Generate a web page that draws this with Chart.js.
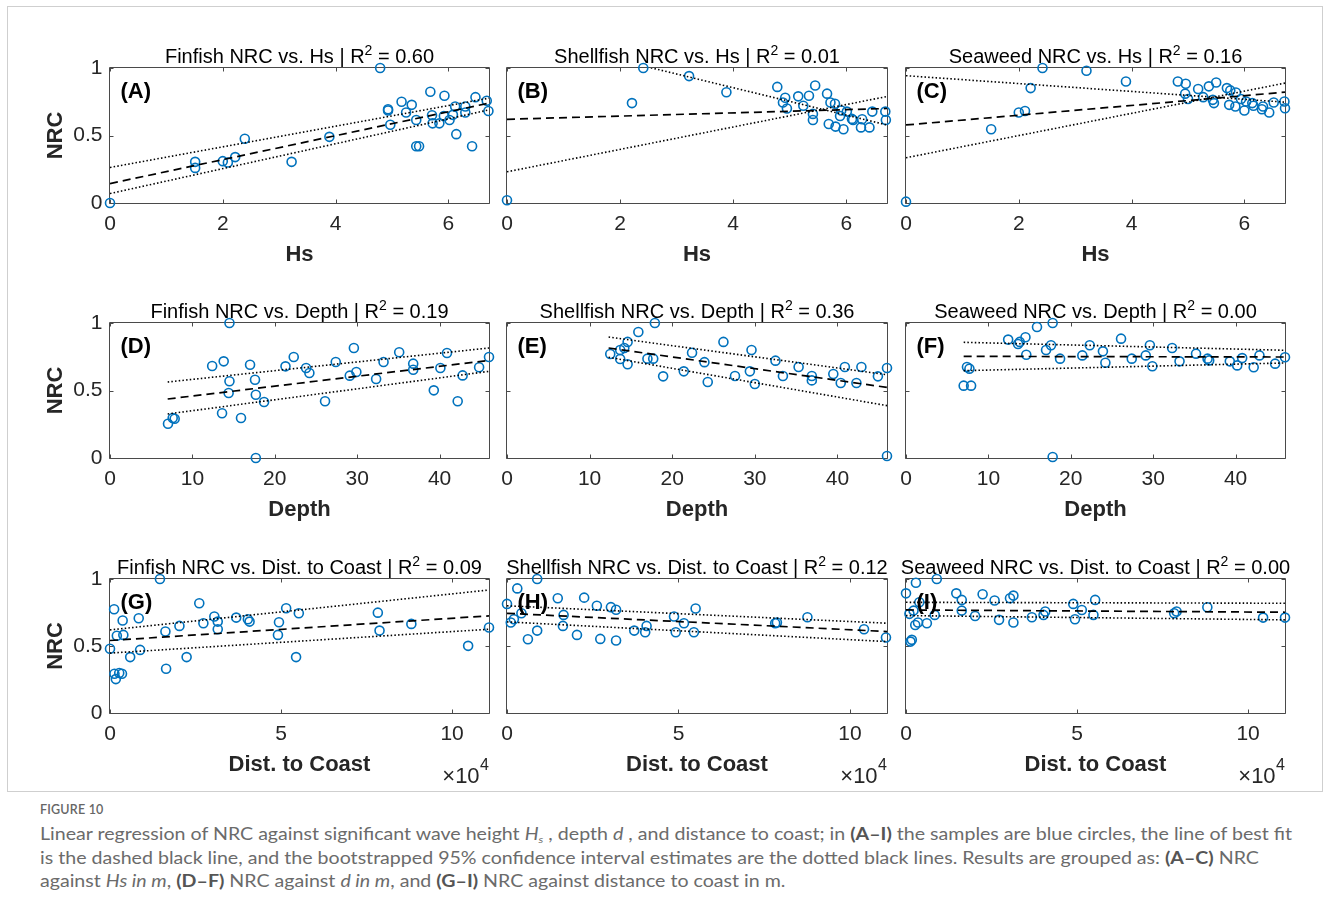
<!DOCTYPE html>
<html>
<head>
<meta charset="utf-8">
<script src="https://cdn.jsdelivr.net/npm/chart.js@4.4.1/dist/chart.umd.min.js"></script>
<style>
  html, body { margin: 0; padding: 0; background: #fff; }
  body { width: 1331px; height: 917px; position: relative; overflow: hidden; }
  .frame { position: absolute; left: 7px; top: 6px; width: 1316px; height: 786px; border: 1px solid #cfcfcf; box-sizing: border-box; }
  canvas.panel { position: absolute; }
  .figno { position: absolute; left: 40px; top: 802px; font: 600 12.5px Lato, "Open Sans", sans-serif; color: #666; letter-spacing: 0.2px; white-space: nowrap; }
  .cap { position: absolute; left: 40px; font: 400 16.5px Lato, "Open Sans", sans-serif; color: #6b6b6b; white-space: nowrap; line-height: 23px; transform-origin: 0 0; display: inline-block; }
  .cap b { color: #555; font-weight: 700; }
  .cap sub { font-size: 10px; vertical-align: -3px; }
</style>
</head>
<body>
<div class="frame"></div>
<div id="panels"></div>
<div class="figno">FIGURE 10</div>
<div class="cap" id="cap1" style="top:823px">Linear regression of NRC against significant wave height <i>H<sub>s</sub></i> , depth <i>d</i> , and distance to coast; in <b>(A–I)</b> the samples are blue circles, the line of best fit</div>
<div class="cap" id="cap2" style="top:846.5px">is the dashed black line, and the bootstrapped 95% confidence interval estimates are the dotted black lines. Results are grouped as: <b>(A–C)</b> NRC</div>
<div class="cap" id="cap3" style="top:870px">against <i>Hs in m</i>, <b>(D–F)</b> NRC against <i>d in m</i>, and <b>(G–I)</b> NRC against distance to coast in m.</div>
<script>
// ---------------- DATA ----------------
const NRC_TICKS = [0, 0.5, 1];
const HS_TICKS = [0, 2, 4, 6];
const DEPTH_TICKS = [0, 10, 20, 30, 40];
const DIST_TICKS = [0, 50000, 100000];

// Row 1: NRC vs Hs
const finHsX = [0, 4.79, 1.51, 1.51, 2.0, 2.09, 2.22, 2.39, 3.22, 3.89, 4.93, 4.93, 4.97, 5.17, 5.25, 5.35, 5.43, 5.43, 5.48, 5.68, 5.71, 5.72, 5.84, 5.93, 5.92, 6.02, 6.08, 6.12, 6.14, 6.30, 6.30, 6.42, 6.48, 6.68, 6.71];
const finHsY = [0, 1.0, 0.305, 0.26, 0.31, 0.30, 0.34, 0.476, 0.305, 0.49, 0.695, 0.685, 0.58, 0.75, 0.67, 0.727, 0.615, 0.42, 0.42, 0.824, 0.65, 0.59, 0.59, 0.794, 0.645, 0.615, 0.653, 0.715, 0.51, 0.715, 0.67, 0.42, 0.784, 0.757, 0.682];
const shellHsX = [0, 2.41, 2.21, 3.22, 3.88, 4.78, 4.92, 4.88, 4.95, 5.15, 5.24, 5.34, 5.45, 5.41, 5.41, 5.66, 5.72, 5.80, 5.69, 5.81, 5.95, 5.91, 5.89, 6.01, 6.10, 6.12, 6.28, 6.26, 6.41, 6.46, 6.69, 6.70];
const shellHsY = [0.02, 1.0, 0.74, 0.94, 0.82, 0.86, 0.78, 0.745, 0.70, 0.79, 0.72, 0.794, 0.87, 0.66, 0.615, 0.81, 0.745, 0.735, 0.585, 0.566, 0.546, 0.685, 0.645, 0.677, 0.623, 0.615, 0.62, 0.56, 0.56, 0.677, 0.677, 0.615];
const seaHsX = [0, 1.51, 2.0, 2.11, 2.21, 2.42, 3.20, 3.90, 4.82, 4.96, 4.95, 5.0, 5.18, 5.27, 5.37, 5.50, 5.44, 5.46, 5.69, 5.75, 5.85, 5.73, 5.84, 5.94, 6.0, 6.03, 6.14, 6.16, 6.33, 6.31, 6.44, 6.52, 6.71, 6.72];
const seaHsY = [0.01, 0.546, 0.67, 0.682, 0.851, 1.0, 0.98, 0.90, 0.90, 0.883, 0.81, 0.77, 0.844, 0.784, 0.864, 0.893, 0.764, 0.74, 0.851, 0.834, 0.819, 0.727, 0.715, 0.77, 0.685, 0.752, 0.74, 0.72, 0.715, 0.695, 0.67, 0.744, 0.752, 0.702];
const hsLineX = [0, 6.72];
const finHsFit = [0.144, 0.74], finHsLo = [0.07, 0.69], finHsHi = [0.263, 0.777];
const shellHsFit = [0.62, 0.70], shellHsLo = [0.231, 0.789], shellHsHi = [1.26, 0.578];
const seaHsFit = [0.578, 0.821], seaHsLo = [0.335, 0.888], seaHsHi = [0.943, 0.747];

// Row 2: NRC vs Depth
const finDepthX = [7.04, 7.61, 7.85, 12.4, 13.6, 13.8, 14.5, 14.5, 14.4, 15.9, 17.0, 17.6, 17.7, 17.7, 18.7, 21.3, 22.3, 23.8, 24.2, 26.1, 27.4, 29.1, 29.6, 29.9, 32.3, 33.2, 35.1, 36.8, 36.8, 39.3, 40.1, 40.9, 42.2, 42.8, 44.8, 46.0];
const finDepthY = [0.254, 0.296, 0.291, 0.681, 0.331, 0.716, 1.0, 0.568, 0.481, 0.296, 0.691, 0.58, 0.469, 0, 0.415, 0.679, 0.748, 0.667, 0.63, 0.42, 0.711, 0.61, 0.815, 0.637, 0.585, 0.711, 0.783, 0.699, 0.654, 0.501, 0.667, 0.778, 0.42, 0.612, 0.672, 0.748];
const shellDepthX = [12.5, 13.7, 13.7, 14.2, 14.6, 14.6, 15.9, 17.0, 17.7, 17.9, 18.9, 21.4, 22.4, 23.9, 24.3, 26.2, 27.6, 29.4, 29.6, 30.0, 32.5, 33.4, 35.3, 36.9, 36.9, 39.5, 40.4, 40.9, 42.3, 42.9, 44.9, 46.0, 46.0];
const shellDepthY = [0.77, 0.80, 0.733, 0.815, 0.86, 0.694, 0.933, 0.736, 0.736, 1.0, 0.605, 0.642, 0.78, 0.71, 0.563, 0.86, 0.607, 0.642, 0.80, 0.548, 0.721, 0.607, 0.674, 0.607, 0.575, 0.622, 0.556, 0.674, 0.556, 0.674, 0.605, 0.667, 0.015];
const seaDepthX = [7.0, 7.9, 7.4, 7.7, 12.4, 13.6, 13.8, 14.5, 14.6, 15.9, 17.0, 17.6, 17.8, 17.8, 18.7, 21.4, 22.3, 23.9, 24.2, 26.1, 27.4, 29.1, 29.6, 29.9, 32.3, 33.2, 35.2, 36.6, 36.8, 39.3, 40.2, 40.8, 42.2, 42.9, 44.8, 46.0];
const seaDepthY = [0.536, 0.536, 0.674, 0.662, 0.877, 0.844, 0.86, 0.894, 0.765, 0.97, 0.80, 0.835, 1.0, 0.007, 0.736, 0.76, 0.835, 0.79, 0.706, 0.884, 0.736, 0.76, 0.835, 0.68, 0.815, 0.716, 0.773, 0.736, 0.723, 0.716, 0.686, 0.74, 0.672, 0.76, 0.699, 0.746];
const finDepthLineX = [7, 46], shellDepthLineX = [12.3, 46], seaDepthLineX = [7, 46];
const finDepthFit = [0.437, 0.723], finDepthLo = [0.326, 0.642], finDepthHi = [0.563, 0.815];
const shellDepthFit = [0.815, 0.523], shellDepthLo = [0.746, 0.388], shellDepthHi = [0.896, 0.617];
const seaDepthFit = [0.753, 0.748], seaDepthLo = [0.647, 0.704], seaDepthHi = [0.857, 0.798];

// Row 3: NRC vs distance to coast (m)
const finDistX = [0, 1200, 1300, 1700, 2000, 2700, 3500, 3700, 3900, 5900, 8400, 8800, 14600, 16200, 16400, 20300, 22400, 26100, 27300, 30500, 31500, 31500, 36900, 40300, 40800, 49400, 49100, 51500, 54400, 55200, 78300, 78800, 88100, 104700, 110800];
const finDistY = [0.479, 0.774, 0.293, 0.253, 0.576, 0.298, 0.293, 0.69, 0.583, 0.417, 0.707, 0.471, 1.0, 0.608, 0.33, 0.65, 0.417, 0.819, 0.67, 0.72, 0.682, 0.625, 0.712, 0.70, 0.682, 0.677, 0.583, 0.782, 0.417, 0.744, 0.749, 0.615, 0.665, 0.501, 0.638];
const shellDistX = [0, 1100, 2000, 3000, 4200, 6100, 8800, 8800, 14800, 16500, 16300, 20400, 22500, 26200, 27200, 30300, 31800, 31800, 37100, 40300, 40700, 48700, 49200, 51600, 54500, 55000, 78200, 78700, 87600, 104100, 110500];
const shellDistY = [0.814, 0.675, 0.70, 0.93, 0.744, 0.55, 1.0, 0.615, 0.856, 0.732, 0.65, 0.583, 0.861, 0.80, 0.553, 0.79, 0.77, 0.541, 0.615, 0.603, 0.65, 0.72, 0.603, 0.67, 0.603, 0.78, 0.67, 0.675, 0.715, 0.625, 0.563];
const seaDistX = [0, 1000, 1300, 1700, 2200, 2700, 2900, 3500, 3900, 6100, 8400, 9000, 14700, 16300, 16300, 20200, 22400, 25900, 27200, 30400, 31400, 31400, 36800, 40200, 40700, 48900, 49400, 51400, 54800, 55300, 78400, 79100, 88100, 104400, 110800];
const seaDistY = [0.893, 0.74, 0.533, 0.546, 0.764, 0.657, 0.972, 0.675, 0.826, 0.67, 0.732, 1.0, 0.893, 0.844, 0.764, 0.724, 0.886, 0.839, 0.695, 0.856, 0.876, 0.675, 0.715, 0.732, 0.757, 0.814, 0.70, 0.769, 0.732, 0.844, 0.744, 0.757, 0.789, 0.712, 0.712];
const distLineX = [0, 110800];
const finDistFit = [0.541, 0.725], finDistLo = [0.447, 0.625], finDistHi = [0.62, 0.918];
const shellDistFit = [0.744, 0.608], shellDistLo = [0.68, 0.533], shellDistHi = [0.80, 0.67];
const seaDistFit = [0.769, 0.752], seaDistLo = [0.727, 0.695], seaDistHi = [0.826, 0.819];

const PANEL_LABELS = ['(A)', '(B)', '(C)', '(D)', '(E)', '(F)', '(G)', '(H)', '(I)'];
const SPECIES = ['Finfish', 'Shellfish', 'Seaweed'];
const R2 = ['0.60', '0.01', '0.16', '0.19', '0.36', '0.00', '0.09', '0.12', '0.00'];
const VAR_NAMES = ['Hs', 'Depth', 'Dist. to Coast'];

// ---------------- LAYOUT ----------------
const FONT = '"Liberation Sans", Arial, Helvetica, sans-serif';
const COLS = [{ l: 110, r: 489 }, { l: 507, r: 887 }, { l: 906, r: 1285 }];
const ROWS = [{ t: 68, b: 203 }, { t: 323, b: 458 }, { t: 579, b: 713 }];
const PAD_L = 70, PAD_T = 40, PAD_R = 20, PAD_B = 80;

const rowData = [
  { xs: [finHsX, shellHsX, seaHsX], ys: [finHsY, shellHsY, seaHsY], lx: [hsLineX, hsLineX, hsLineX],
    fit: [finHsFit, shellHsFit, seaHsFit], lo: [finHsLo, shellHsLo, seaHsLo], hi: [finHsHi, shellHsHi, seaHsHi],
    ticks: HS_TICKS, max: 6.72, fmt: v => String(v), exp: false },
  { xs: [finDepthX, shellDepthX, seaDepthX], ys: [finDepthY, shellDepthY, seaDepthY], lx: [finDepthLineX, shellDepthLineX, seaDepthLineX],
    fit: [finDepthFit, shellDepthFit, seaDepthFit], lo: [finDepthLo, shellDepthLo, seaDepthLo], hi: [finDepthHi, shellDepthHi, seaDepthHi],
    ticks: DEPTH_TICKS, max: 46, fmt: v => String(v), exp: false },
  { xs: [finDistX, shellDistX, seaDistX], ys: [finDistY, shellDistY, seaDistY], lx: [distLineX, distLineX, distLineX],
    fit: [finDistFit, shellDistFit, seaDistFit], lo: [finDistLo, shellDistLo, seaDistLo], hi: [finDistHi, shellDistHi, seaDistHi],
    ticks: DIST_TICKS, max: 110800, fmt: v => String(v / 10000), exp: true }
];

const matlabAxes = {
  id: 'matlabAxes',
  beforeDatasetsDraw(chart) {
    const { ctx, chartArea: a, scales: { x, y } } = chart;
    ctx.save();
    ctx.strokeStyle = '#4a4a4a';
    ctx.lineWidth = 1;
    ctx.beginPath();
    const L = a.left - 0.5, R = a.right + 0.5, T = a.top - 0.5, B = a.bottom + 0.5;
    ctx.rect(L, T, R - L, B - T);
    const tl = 4;
    x.ticks.forEach(t => {
      const p = Math.round(x.getPixelForValue(t.value)) + 0.5;
      ctx.moveTo(p, B); ctx.lineTo(p, B - tl);
      ctx.moveTo(p, T); ctx.lineTo(p, T + tl);
    });
    y.ticks.forEach(t => {
      const p = Math.round(y.getPixelForValue(t.value)) + 0.5;
      ctx.moveTo(L, p); ctx.lineTo(L + tl, p);
      ctx.moveTo(R, p); ctx.lineTo(R - tl, p);
    });
    ctx.stroke();
    ctx.restore();
  },
  afterDraw(chart, args, o) {
    const { ctx, chartArea: a } = chart;
    ctx.save();
    // title with superscript
    ctx.fillStyle = '#000';
    ctx.textBaseline = 'alphabetic';
    ctx.textAlign = 'left';
    const mainFont = '20px ' + FONT, supFont = '14px ' + FONT;
    ctx.font = mainFont; const w1 = ctx.measureText(o.pre).width; const w3 = ctx.measureText(o.post).width;
    ctx.font = supFont; const w2 = ctx.measureText(o.sup).width;
    let sx = (a.left + a.right) / 2 - (w1 + w2 + w3) / 2;
    const base = a.top - 5.5;
    ctx.font = mainFont; ctx.fillText(o.pre, sx, base); sx += w1;
    ctx.font = supFont; ctx.fillText(o.sup, sx, base - 8); sx += w2;
    ctx.font = mainFont; ctx.fillText(o.post, sx, base);
    // panel label
    ctx.font = 'bold 22px ' + FONT;
    ctx.fillStyle = '#000';
    ctx.textBaseline = 'middle';
    ctx.fillText(o.label, a.left + 10.5, a.top + 24);
    // exponent
    if (o.exp) {
      ctx.fillStyle = '#262626';
      ctx.textBaseline = 'alphabetic';
      ctx.textAlign = 'right';
      ctx.font = '16px ' + FONT;
      const w4 = ctx.measureText('4').width;
      ctx.fillText('4', a.right, a.bottom + 57);
      ctx.font = '22px ' + FONT;
      ctx.fillText('\u00d710', a.right - w4 - 0.5, a.bottom + 70);
    }
    ctx.restore();
  }
};

const host = document.getElementById('panels');
rowData.forEach((rd, r) => {
  COLS.forEach((c, k) => {
    const idx = r * 3 + k;
    const row = ROWS[r];
    const W = PAD_L + (c.r - c.l) + PAD_R;
    const H = PAD_T + (row.b - row.t) + PAD_B;
    const cv = document.createElement('canvas');
    cv.className = 'panel';
    cv.width = W; cv.height = H;
    cv.style.left = (c.l - PAD_L) + 'px';
    cv.style.top = (row.t - PAD_T) + 'px';
    cv.style.width = W + 'px'; cv.style.height = H + 'px';
    host.appendChild(cv);

    const pts = rd.xs[k].map((xv, i) => ({ x: xv, y: rd.ys[k][i] }));
    const line = arr => rd.lx[k].map((xv, i) => ({ x: xv, y: arr[i] }));
    const firstCol = k === 0;

    new Chart(cv, {
      type: 'scatter',
      data: {
        datasets: [
          { data: line(rd.fit[k]), showLine: true, borderColor: '#000', borderWidth: 1.7, borderDash: [8, 5], pointRadius: 0, order: 0 },
          { data: line(rd.lo[k]), showLine: true, borderColor: '#000', borderWidth: 1.6, borderDash: [1.5, 2.2], pointRadius: 0, order: 0 },
          { data: line(rd.hi[k]), showLine: true, borderColor: '#000', borderWidth: 1.6, borderDash: [1.5, 2.2], pointRadius: 0, order: 0 },
          { data: pts, pointRadius: 4.5, pointBorderWidth: 1.6, borderColor: '#0072BD', pointBorderColor: '#0072BD', backgroundColor: 'rgba(0,0,0,0)', pointBackgroundColor: 'rgba(0,0,0,0)', clip: false, order: 1 }
        ]
      },
      options: {
        responsive: false,
        maintainAspectRatio: false,
        animation: false,
        events: [],
        layout: { padding: { left: 0, top: PAD_T, right: PAD_R, bottom: 0 } },
        plugins: {
          legend: { display: false },
          tooltip: { enabled: false },
          title: { display: false },
          matlabAxes: {
            pre: SPECIES[k] + ' NRC vs. ' + VAR_NAMES[r] + ' | R',
            sup: '2',
            post: ' = ' + R2[idx],
            label: PANEL_LABELS[idx],
            exp: rd.exp
          }
        },
        scales: {
          x: {
            type: 'linear', position: 'bottom', min: 0, max: rd.max,
            afterBuildTicks: s => { s.ticks = rd.ticks.map(v => ({ value: v })); },
            afterFit: s => { s.height = PAD_B; },
            grid: { display: false, drawTicks: false },
            border: { display: false },
            ticks: { autoSkip: false, maxRotation: 0, padding: 9, color: '#262626', font: { family: FONT, size: 21 }, callback: v => rd.fmt(v) },
            title: { display: true, text: VAR_NAMES[r], color: '#262626', font: { family: FONT, size: 22, weight: 'bold' }, padding: { top: 0, bottom: 14.8 } }
          },
          y: {
            type: 'linear', position: 'left', min: 0, max: 1,
            afterBuildTicks: s => { s.ticks = NRC_TICKS.map(v => ({ value: v })); },
            afterFit: s => { s.width = PAD_L; },
            grid: { display: false, drawTicks: false },
            border: { display: false },
            ticks: { display: firstCol, padding: 7.5, color: '#262626', font: { family: FONT, size: 21 }, callback: v => String(v) },
            title: { display: firstCol, text: 'NRC', color: '#262626', font: { family: FONT, size: 22, weight: 'bold' }, padding: { top: 3, bottom: 0 } }
          }
        }
      },
      plugins: [matlabAxes]
    });
  });
});

// caption: condense to the reference line width
function fitCaption() {
  const l1 = document.getElementById('cap1');
  const w = l1.getBoundingClientRect().width;
  const s = 1252 / w;
  document.querySelectorAll('.cap').forEach(el => { el.style.transform = 'scaleX(' + s + ')'; });
}
fitCaption();
</script>
</body>
</html>
